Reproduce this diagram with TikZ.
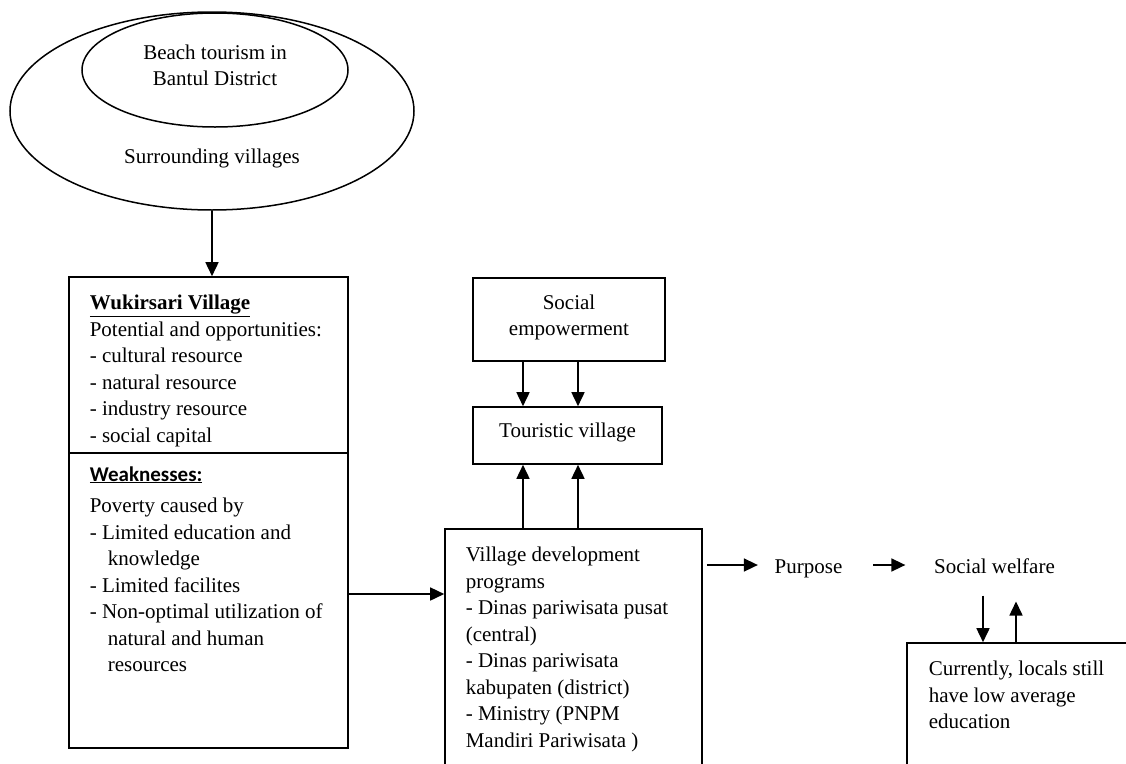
\documentclass[tikz,border=0pt]{standalone}
\usepackage{fontspec}
\setmainfont{Liberation Serif}
\newfontfamily\calfont{Carlito}
\usetikzlibrary{arrows.meta,shapes.geometric}
\begin{document}
\begin{tikzpicture}[x=1pt,y=-1pt,
  line width=1.6pt,
  arr/.style={-{Triangle[length=14pt,width=13pt]}, line width=1.6pt},
  box/.style={draw, line width=1.6pt, inner sep=0pt},
  oval/.style={draw, ellipse, line width=1.5pt, inner sep=0pt},
  txt/.style={inner sep=0pt, font=\fontsize{21}{26.5}\selectfont},
  blk/.style={txt, align=left, anchor=north west},
  lbl/.style={txt, anchor=base},
]
\useasboundingbox (0,0) rectangle (1126,763);
\clip (0,0) rectangle (1126,763);

% ellipses
\node[oval, minimum width=404pt, minimum height=198pt] (out) at (212,111) {};
\node[oval, minimum width=266pt, minimum height=114pt] (inn) at (215,70) {};
\node[lbl] (beach1) at (215,59) {Beach tourism in};
\node[lbl] (beach2) at (215,85) {Bantul District};
\node[lbl] (surr) at (212,163) {Surrounding villages};

% Wukirsari box
\node[box, minimum width=279pt, minimum height=471pt] (wuk) at (208.5,512.5) {};
\coordinate (divL) at (69,453);
\coordinate (divR) at (348,453);
\draw (divL) -- (divR);
\node[blk] (wuktxt) at (89,290.45) {\strut\underline{\textbf{Wukirsari Village}}\\
Potential and opportunities:\\
- cultural resource\\
- natural resource\\
- industry resource\\
- social capital};
\node[txt, anchor=base west] (weak) at (89,481) {\calfont\bfseries\underline{Weaknesses:}};
\node[blk] (weaktxt) at (89,493.45) {\strut Poverty caused by\\
- Limited education and\\
\hspace*{18pt}knowledge\\
- Limited facilites\\
- Non-optimal utilization of\\
\hspace*{18pt}natural and human\\
\hspace*{18pt}resources};

% Social empowerment & Touristic village
\node[box, minimum width=192pt, minimum height=83pt] (se) at (569,319.5) {};
\node[lbl] (se1) at (569,309) {Social};
\node[lbl] (se2) at (569,335) {empowerment};
\node[box, minimum width=189pt, minimum height=57pt] (tv) at (567.5,435.5) {};
\node[lbl] (tvtxt) at (567.5,437) {Touristic village};

% Village development programs
\node[box, minimum width=257pt, minimum height=271pt] (vdp) at (573.5,664.5) {};
\node[blk] (vdptxt) at (465,542.45) {\strut Village development\\
programs\\
- Dinas pariwisata pusat\\
(central)\\
- Dinas pariwisata\\
kabupaten (district)\\
- Ministry (PNPM\\
Mandiri Pariwisata )};

% Purpose / Social welfare
\node[lbl] (purpose) at (808.5,573) {Purpose};
\node[lbl] (welfare) at (994.5,573) {Social welfare};

% Currently box
\node[box, minimum width=293pt, minimum height=157pt] (cur) at (1053.5,721.5) {};
\node[blk] (curtxt) at (928,656.45) {\strut Currently, locals still\\
have low average\\
education};

% connectors
\coordinate (ya) at (0,594);
\coordinate (yb) at (0,565);
\draw[arr] (out.south) -- (out.south |- wuk.north);
\draw[arr] (wuk.east |- ya) -- (vdp.west |- ya);
\draw[arr] (se.south -| 523,0) -- (tv.north -| 523,0);
\draw[arr] (se.south -| 578,0) -- (tv.north -| 578,0);
\draw[arr] (vdp.north -| 523,0) -- (tv.south -| 523,0);
\draw[arr] (vdp.north -| 578,0) -- (tv.south -| 578,0);
\draw[arr] ([xshift=4pt]vdp.east |- yb) -- ([xshift=-16pt]purpose.west |- yb);
\draw[arr] ([xshift=30pt]purpose.east |- yb) -- ([xshift=-28pt]welfare.west |- yb);
\draw[arr] ([yshift=-21.5pt]welfare.south -| 983,0) -- (cur.north -| 983,0);
\draw[arr] (cur.north -| 1016,0) -- ([yshift=-27.5pt]welfare.south -| 1016,0);
\end{tikzpicture}
\end{document}
